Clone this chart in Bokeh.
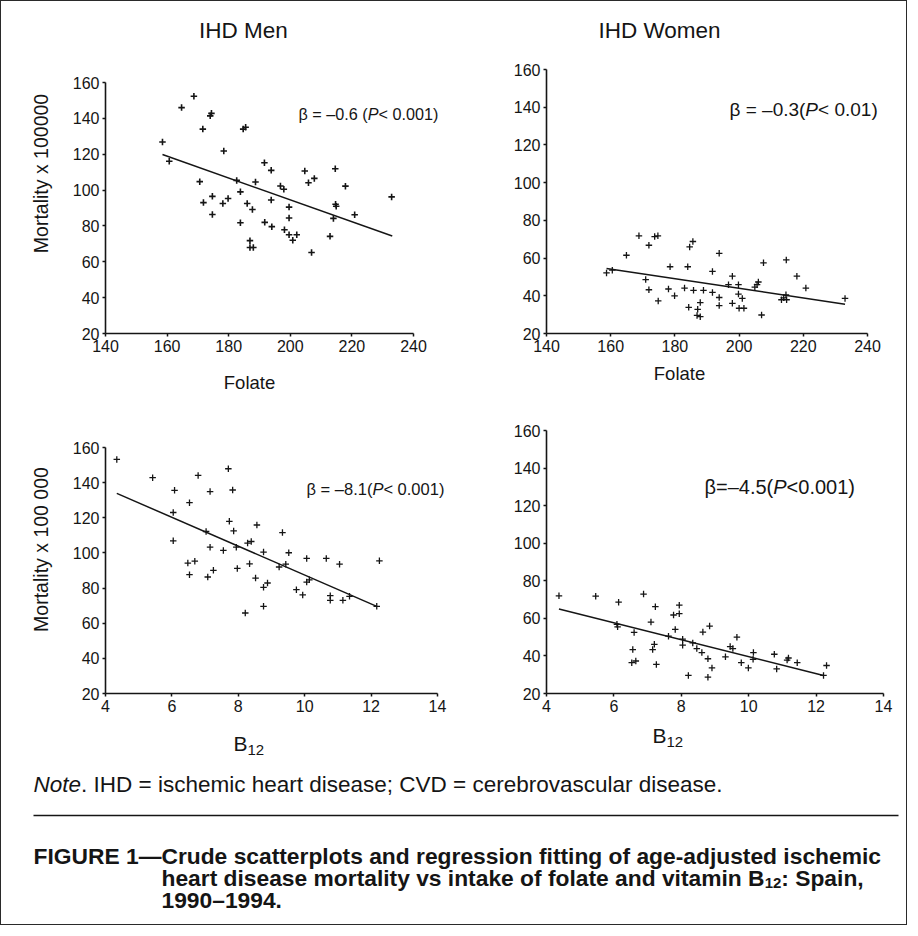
import math
from bokeh.plotting import figure
from bokeh.models import Range1d, Label, FixedTicker
from bokeh.layouts import column, row
from bokeh.embed import file_html
from bokeh.resources import INLINE

# ---------------- data ----------------
folate_ticks = [140, 160, 180, 200, 220, 240]
b12_ticks = [4, 6, 8, 10, 12, 14]
mortality_ticks = [20, 40, 60, 80, 100, 120, 140, 160]

men_folate_x = [158.5, 160.7, 164.7, 168.7, 171.6, 174.0, 174.4, 178.4, 170.6, 171.8,
                174.7, 174.7, 178.1, 179.8, 182.6, 183.8, 183.8, 184.7, 185.5, 186.0,
                186.9, 186.9, 188.0, 187.7, 188.7, 191.6, 193.8, 193.8, 191.7, 194.0,
                196.8, 197.9, 198.1, 199.6, 199.6, 199.6, 200.8, 202.1, 204.7, 205.9,
                207.8, 206.9, 212.9, 214.0, 214.6, 214.7, 214.9, 217.9, 220.9, 232.9]
men_folate_y = [126.8, 116.1, 146.0, 152.3, 134.0, 141.4, 142.8, 121.8, 104.7, 93.0,
                96.5, 86.4, 92.5, 95.3, 105.4, 99.0, 81.8, 134.0, 135.0, 92.5,
                71.8, 68.0, 68.0, 89.2, 104.5, 115.2, 111.0, 94.5, 82.0, 79.6,
                102.3, 100.5, 77.9, 90.5, 84.4, 75.1, 72.0, 75.1, 110.6, 104.1,
                106.5, 65.2, 74.2, 84.2, 111.9, 92.1, 91.0, 102.2, 86.2, 96.2]
men_folate_fit_x = [158.5, 233.1]
men_folate_fit_y = [119.8, 74.4]

women_folate_x = [158.7, 160.5, 164.9, 168.8, 171.9, 173.7, 174.7, 170.9, 171.9, 174.8,
                  178.5, 178.0, 179.9, 183.0, 184.0, 185.8, 184.3, 187.1, 186.9, 187.9,
                  187.9, 184.6, 185.6, 188.9, 191.7, 191.7, 193.8, 193.8, 193.8, 196.7,
                  197.9, 197.9, 199.8, 199.8, 201.0, 200.0, 201.5, 204.9, 205.6, 206.0,
                  207.6, 207.0, 213.2, 213.9, 214.6, 214.8, 214.7, 218.0, 220.8, 233.0]
women_folate_y = [52.1, 53.6, 61.5, 71.8, 66.8, 71.4, 71.8, 48.6, 43.2, 37.3,
                  55.4, 43.6, 40.0, 44.1, 55.4, 42.9, 33.9, 32.8, 29.6, 28.9,
                  36.4, 65.9, 68.8, 42.9, 41.8, 52.9, 62.5, 39.1, 34.8, 45.9,
                  50.4, 36.0, 45.9, 40.9, 38.6, 33.4, 33.4, 44.6, 45.9, 47.3,
                  57.5, 29.8, 37.9, 38.9, 40.5, 37.9, 59.0, 50.4, 44.1, 38.6]
women_folate_fit_x = [158.7, 233.0]
women_folate_fit_y = [54.5, 35.5]

men_b12_x = [4.34, 5.42, 6.08, 6.53, 6.04, 6.04, 6.79, 7.15, 7.70, 7.83,
             7.73, 7.86, 7.03, 7.15, 7.55, 7.94, 6.48, 6.69, 6.53, 7.08,
             7.25, 7.97, 8.28, 8.39, 8.56, 8.34, 8.52, 8.76, 8.76, 8.88,
             8.76, 8.21, 9.33, 9.52, 9.23, 9.43, 10.06, 10.06, 10.14, 9.75,
             9.94, 10.65, 10.77, 10.77, 11.05, 11.15, 11.35, 12.25, 12.17]
men_b12_y = [153.2, 142.8, 135.6, 128.6, 123.0, 106.9, 144.1, 134.9, 147.9, 135.8,
             118.0, 112.5, 112.2, 103.3, 101.4, 103.3, 94.2, 95.3, 87.6, 86.3,
             90.1, 91.2, 105.6, 106.5, 115.9, 93.8, 85.7, 100.5, 80.4, 82.9,
             69.6, 65.8, 111.6, 100.1, 92.0, 93.6, 96.9, 83.4, 84.7, 79.1,
             76.1, 96.9, 75.7, 73.0, 93.6, 73.0, 75.3, 95.5, 69.6]
men_b12_fit_x = [4.34, 12.17]
men_b12_fit_y = [133.9, 69.6]

women_b12_x = [4.37, 5.46, 6.14, 6.88, 7.23, 7.94, 7.77, 7.94, 7.10, 6.09,
               6.11, 6.60, 7.82, 8.64, 8.84, 7.62, 8.04, 8.04, 8.34, 8.46,
               9.65, 9.45, 9.53, 6.56, 7.20, 7.15, 10.14, 10.76, 8.61, 6.65,
               6.53, 7.26, 8.79, 8.91, 8.21, 8.79, 9.31, 9.78, 9.99, 10.13,
               10.83, 11.14, 11.18, 11.44, 12.31, 12.22]
women_b12_y = [72.0, 71.8, 68.6, 72.9, 66.2, 67.0, 61.8, 62.5, 58.0, 56.8,
               55.5, 52.5, 54.1, 52.7, 55.9, 50.5, 48.9, 45.7, 46.9, 43.9,
               50.0, 45.0, 43.9, 43.4, 46.2, 43.4, 41.8, 40.9, 41.8, 37.3,
               36.4, 35.5, 38.5, 33.6, 29.6, 28.7, 39.5, 36.4, 33.6, 38.2,
               33.1, 37.8, 38.9, 36.4, 34.9, 29.6]
women_b12_fit_x = [4.37, 12.22]
women_b12_fit_y = [65.0, 29.6]

panel_titles = ["IHD Men", "IHD Women"]
men_folate_beta = [("β = –0.6 (", "normal"), ("P", "italic"), (" < 0.001)", "normal")]
women_folate_beta = [("β = –0.3(", "normal"), ("P", "italic"), (" < 0.01)", "normal")]
men_b12_beta = [("β = –8.1(", "normal"), ("P", "italic"), (" < 0.001)", "normal")]
women_b12_beta = [("β=–4.5(", "normal"), ("P", "italic"), ("<0.001)", "normal")]
y_label_top = "Mortality x 100000"
y_label_bottom = "Mortality x 100 000"
x_label_folate = "Folate"
x_label_b12 = ("B", "12")
note_italic = "Note"
note_rest = ". IHD = ischemic heart disease; CVD = cerebrovascular disease."
caption_1 = "FIGURE 1—Crude scatterplots and regression fitting of age-adjusted ischemic"
caption_2a = "heart disease mortality vs intake of folate and vitamin B"
caption_2sub = "12"
caption_2b = ": Spain,"
caption_3 = "1990–1994."

# ---------------- styling helpers ----------------
FONT = "Liberation Sans"
INK = "#151515"

_REG = {' ': 278, '(': 333, ')': 333, '.': 278, ',': 278, ':': 278, ';': 278, '<': 584,
        '=': 584, '–': 556, '—': 1000, 'β': 574, 'P': 667, 'N': 722, 'I': 278, 'H': 722,
        'D': 722, 'C': 722, 'V': 667, 'B': 667, 'M': 833, 'F': 611, 'W': 944, 'i': 222,
        's': 500, 'c': 500, 'm': 833, 'r': 333, 'v': 500, 'x': 500, 'y': 500, 'l': 222,
        't': 278, 'f': 278, 'j': 222, 'k': 500, '-': 333}
_BOLD = {' ': 278, '(': 333, ')': 333, '.': 278, ',': 278, ':': 333, ';': 333, '–': 556,
         '—': 1000, 'F': 611, 'I': 278, 'G': 778, 'U': 722, 'R': 722, 'E': 667, 'C': 722,
         'B': 722, 'S': 667, 'b': 611, 'd': 611, 'f': 333, 'g': 611, 'h': 611, 'i': 278,
         'j': 278, 'l': 278, 'm': 889, 'n': 611, 'o': 611, 'p': 611, 'r': 389, 't': 333,
         'u': 611, '-': 333, 'q': 611}


def text_width(s, size, bold=False):
    table = _BOLD if bold else _REG
    return sum(table.get(ch, 556) for ch in s) / 1000.0 * size


def add_label(p, x, y, text, size, style="normal", align="left",
              baseline="alphabetic", angle=0.0):
    p.add_layout(Label(x=x, y=y, text=text, text_font=FONT,
                       text_font_size=f"{size}px", text_font_style=style,
                       text_color=INK, text_align=align,
                       text_baseline=baseline, angle=angle))


def strip(canvas, frame_y=None):
    """Plain drawing area; its data coordinates are page pixels (y downwards)."""
    x0, x1, y0, y1 = canvas
    f0, f1 = frame_y if frame_y else (y0, y1)
    s = figure(width=x1 - x0, height=y1 - y0, x_range=Range1d(x0, x1),
               y_range=Range1d(f1, f0), output_backend="svg", toolbar_location=None,
               title_location=None, x_axis_location=None, y_axis_location=None,
               min_border_left=0, min_border_right=0,
               min_border_top=f0 - y0, min_border_bottom=y1 - f1,
               background_fill_color="white", border_fill_color="white")
    s.outline_line_color = None
    s.grid.visible = False
    return s


class Panel:
    """canvas/frame in page pixels; axis_px = page x of first and last x tick;
    y_top_px = page y of the top y tick (the bottom tick sits on the frame bottom)."""

    def __init__(self, canvas, frame, axis_px, y_top_px, xticks, yticks):
        cx0, cx1, cy0, cy1 = canvas
        fx0, fx1, fy0, fy1 = frame
        a0, a1 = axis_px
        k = (xticks[-1] - xticks[0]) / (a1 - a0)
        xr = (xticks[0] - (a0 - fx0) * k, xticks[-1] + (fx1 - a1) * k)
        ky = (yticks[-1] - yticks[0]) / (fy1 - y_top_px)
        yr = (yticks[0], yticks[-1] + (y_top_px - fy0) * ky)
        self.frame, self.xr, self.yr = frame, xr, yr
        p = figure(width=cx1 - cx0, height=cy1 - cy0,
                   x_range=Range1d(*xr), y_range=Range1d(*yr),
                   output_backend="svg", toolbar_location=None, title_location=None,
                   min_border_left=fx0 - cx0, min_border_right=cx1 - fx1,
                   min_border_top=fy0 - cy0, min_border_bottom=cy1 - fy1,
                   background_fill_color="white", border_fill_color="white")
        p.outline_line_color = None
        p.grid.visible = False
        p.xaxis.ticker = FixedTicker(ticks=xticks)
        p.yaxis.ticker = FixedTicker(ticks=yticks)
        p.xaxis.bounds = (xticks[0], xticks[-1])
        p.yaxis.bounds = (yticks[0], yticks[-1])
        for ax in (p.xaxis[0], p.yaxis[0]):
            ax.axis_line_color = INK
            ax.axis_line_width = 1.6
            ax.major_tick_line_color = INK
            ax.major_tick_line_width = 1.5
            ax.major_tick_out = 3
            ax.major_tick_in = 0
            ax.minor_tick_line_color = None
            ax.major_label_text_font = FONT
            ax.major_label_text_font_size = "16px"
            ax.major_label_text_color = INK
            ax.major_label_standoff = 3
        self.p = p

    def data(self, rx, ry):
        fx0, fx1, fy0, fy1 = self.frame
        x = self.xr[0] + (rx - fx0) / (fx1 - fx0) * (self.xr[1] - self.xr[0])
        y = self.yr[1] - (ry - fy0) / (fy1 - fy0) * (self.yr[1] - self.yr[0])
        return x, y

    def pieces(self, rx, ry, parts, size):
        for txt, style in parts:
            x, y = self.data(rx, ry)
            add_label(self.p, x, y, txt, size, style)
            rx += text_width(txt, size)

    def scatter(self, xs, ys, fx, fy, size=6.5, lw=1.3):
        self.p.line(fx, fy, line_color=INK, line_width=1.5)
        self.p.scatter(xs, ys, marker="cross", size=size, line_color=INK, line_width=lw)


# ---------------- page layout (page pixels of the reference) ----------------
ROW_A = (55, 368)      # canvas top/bottom of the upper panels
FRAME_A = (76, 340)    # shared frame top/bottom of the upper panels
ROW_B = (405, 728)
FRAME_B = (437, 700)

titles = strip((8, 913, 8, 55))
add_label(titles, 250, 37, panel_titles[0], 22.5, align="center")
add_label(titles, 666, 37, panel_titles[1], 22.5, align="center")

ylab1 = strip((8, 68) + ROW_A, FRAME_A)
add_label(ylab1, 47, 180, y_label_top, 19.5, align="center", baseline="middle",
          angle=math.pi / 2)

p1 = Panel((68, 470) + ROW_A, (112, 462) + FRAME_A, (112, 420), 89,
           folate_ticks, mortality_ticks)
p1.scatter(men_folate_x, men_folate_y, men_folate_fit_x, men_folate_fit_y, size=6.5, lw=1.6)
p1.pieces(305, 120, men_folate_beta, 16.2)

p2 = Panel((470, 913) + ROW_A, (553, 905) + FRAME_A, (553, 874), 76,
           folate_ticks, mortality_ticks)
p2.scatter(women_folate_x, women_folate_y, women_folate_fit_x, women_folate_fit_y)
p2.pieces(736, 116, women_folate_beta, 19)

xlab1 = strip((8, 913, 368, 405))
add_label(xlab1, 256, 389, x_label_folate, 18.5, align="center")
add_label(xlab1, 686, 380, x_label_folate, 18.5, align="center")

ylab3 = strip((8, 68) + ROW_B, FRAME_B)
add_label(ylab3, 47, 556, y_label_bottom, 19.5, align="center", baseline="middle",
          angle=math.pi / 2)

p3 = Panel((68, 470) + ROW_B, (112, 462) + FRAME_B, (112, 444), 454,
           b12_ticks, mortality_ticks)
p3.scatter(men_b12_x, men_b12_y, men_b12_fit_x, men_b12_fit_y)
p3.pieces(313, 495, men_b12_beta, 16.5)

p4 = Panel((470, 913) + ROW_B, (553, 905) + FRAME_B, (553, 890), 437,
           b12_ticks, mortality_ticks)
p4.scatter(women_b12_x, women_b12_y, women_b12_fit_x, women_b12_fit_y)
p4.pieces(711, 493, women_b12_beta, 20)

xlab2 = strip((8, 913, 728, 765))
add_label(xlab2, 240, 750, x_label_b12[0], 21)
add_label(xlab2, 240 + text_width("B", 21), 756, x_label_b12[1], 15)
add_label(xlab2, 659, 742, x_label_b12[0], 21)
add_label(xlab2, 659 + text_width("B", 21), 748, x_label_b12[1], 15)

cap = strip((8, 913, 765, 931))
add_label(cap, 40, 791, note_italic, 22.5, "italic")
add_label(cap, 40 + text_width(note_italic, 22.5), 791, note_rest, 22.5)
cap.line([40, 905], [822, 822], line_color=INK, line_width=1.5)
add_label(cap, 40, 862, caption_1, 22.8, "bold")
add_label(cap, 168, 884, caption_2a, 22.8, "bold")
x2 = 168 + text_width(caption_2a, 22.8, bold=True)
add_label(cap, x2, 889, caption_2sub, 15, "bold")
add_label(cap, x2 + text_width(caption_2sub, 15, bold=True), 884, caption_2b, 22.8, "bold")
add_label(cap, 168, 906, caption_3, 22.8, "bold")

layout = column(
    titles,
    row(ylab1, p1.p, p2.p),
    xlab1,
    row(ylab3, p3.p, p4.p),
    xlab2,
    cap,
    styles={"border": "1.5px solid #2a2a2a"},
)

open("out.html", "w").write(file_html(layout, INLINE))
